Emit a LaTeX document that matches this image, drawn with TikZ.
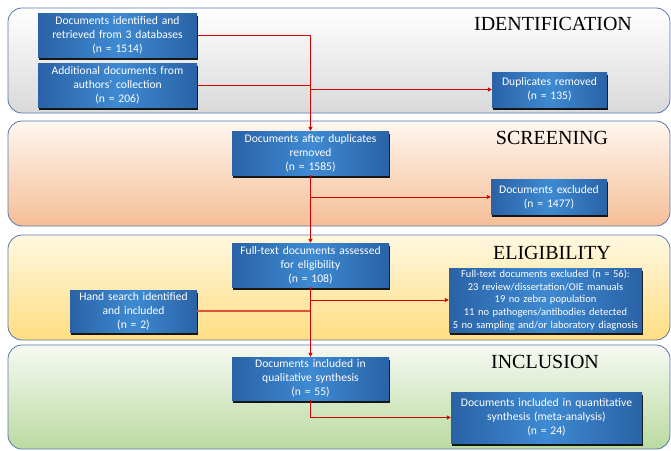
\documentclass[tikz,border=0pt]{standalone}
\usepackage{fontspec}
\setmainfont{Carlito}
\newfontfamily\titlefont{Liberation Serif}
\usetikzlibrary{arrows.meta,shadows}
\definecolor{boxdark}{HTML}{2A62A6}
\definecolor{boxlight}{HTML}{3E8AD2}
\definecolor{flowred}{HTML}{D00000}
\definecolor{handred}{HTML}{E0503A}
\definecolor{panelborder}{HTML}{5877B0}
\begin{document}
\begin{tikzpicture}[x=1pt,y=-1pt,
  panel/.style={draw=panelborder,line width=0.8pt,rounded corners=14pt},
  title/.style={font=\titlefont\fontsize{20}{22}\selectfont,text=black,inner sep=0pt},
  blockbox/.style={draw=none,left color=boxdark,right color=boxdark,middle color=boxlight,
    text=white,align=center,inner sep=1pt,font=\fontsize{11.6}{14}\selectfont,
    drop shadow={shadow xshift=0.6pt,shadow yshift=-2.6pt,opacity=0.9,fill=black}},
  smallbox/.style={blockbox,inner sep=0pt,font=\fontsize{10.5}{12.6}\selectfont},
  flow/.style={draw=flowred,line width=0.9pt,-{Triangle[length=4pt,width=4pt]}},
  plain/.style={draw=flowred,line width=0.9pt},
  handline/.style={draw=handred,line width=1.8pt}
]
\useasboundingbox (0,0) rectangle (671,450);
\fill[white] (0,0) rectangle (671,450);
% panels
\path[panel,top color=white,bottom color=black!15] (8,8) rectangle (670,113);
\path[panel,top color=orange!6,bottom color={rgb,255:red,245;green,190;blue,150}] (8,121) rectangle (670,226);
\path[panel,top color={rgb,255:red,255;green,248;blue,225},bottom color={rgb,255:red,255;green,222;blue,130}] (8,235) rectangle (670,340);
\path[panel,top color={rgb,255:red,246;green,249;blue,242},bottom color={rgb,255:red,186;green,218;blue,160}] (8,345) rectangle (670,449);
% titles
\node[title] (tid) at (553,24) {IDENTIFICATION};
\node[title] (tsc) at (552,138) {SCREENING};
\node[title] (tel) at (552,253) {ELIGIBILITY};
\node[title] (tin) at (545,362) {INCLUSION};
% boxes
\node[blockbox,minimum width=159pt,minimum height=44pt,text width=155pt] (box1) at (117.5,35) {Documents identified and\\retrieved from 3 databases\\(n = 1514)};
\node[blockbox,minimum width=159pt,minimum height=44pt,text width=155pt] (box2) at (117.5,85) {Additional documents from\\authors' collection\\(n = 206)};
\node[blockbox,minimum width=115pt,minimum height=35pt,text width=112pt] (dup) at (549.5,89.5) {Duplicates removed\\(n = 135)};
\node[blockbox,minimum width=157pt,minimum height=44pt,text width=153pt] (afterdup) at (310.5,153) {Documents after duplicates\\removed\\(n = 1585)};
\node[blockbox,minimum width=116pt,minimum height=35pt,text width=112pt] (excl1) at (549,197) {Documents excluded\\(n = 1477)};
\node[blockbox,minimum width=157pt,minimum height=44pt,text width=153pt] (fulltext) at (310.5,265) {Full-text documents assessed\\for eligibility\\(n = 108)};
\node[blockbox,minimum width=127pt,minimum height=42pt,text width=123pt] (hand) at (133.5,311) {Hand search identified\\and included\\(n = 2)};
\node[smallbox,minimum width=193pt,minimum height=64pt,text width=193pt] (excl2) at (545.5,300) {Full-text documents excluded (n = 56):\\23 review/dissertation/OIE manuals\\19 no zebra population\\11 no pathogens/antibodies detected\\5 no sampling and/or laboratory diagnosis};
\node[blockbox,minimum width=157pt,minimum height=43pt,text width=153pt] (qual) at (310.5,378.5) {Documents included in\\qualitative synthesis\\(n = 55)};
\node[blockbox,minimum width=191pt,minimum height=51pt,text width=187pt] (quant) at (546.5,417.5) {Documents included in quantitative\\synthesis (meta-analysis)\\(n = 24)};
% connectors
\draw[flow] (box1.east) -- (box1.east -| afterdup.north) -- (afterdup.north);
\draw[plain] (box2.east) -- (box2.east -| afterdup.north);
\draw[flow] (afterdup.north |- dup.west) -- (dup.west);
\draw[flow] (afterdup.south) -- (fulltext.north);
\draw[flow] (afterdup.south |- excl1.west) -- (excl1.west);
\draw[handline] (hand.east) -- (hand.east -| fulltext.south);
\draw[flow] (fulltext.south) -- (qual.north);
\draw[flow] (fulltext.south |- excl2.west) -- (excl2.west);
\draw[flow] (qual.south) |- (quant.west);
\end{tikzpicture}
\end{document}
